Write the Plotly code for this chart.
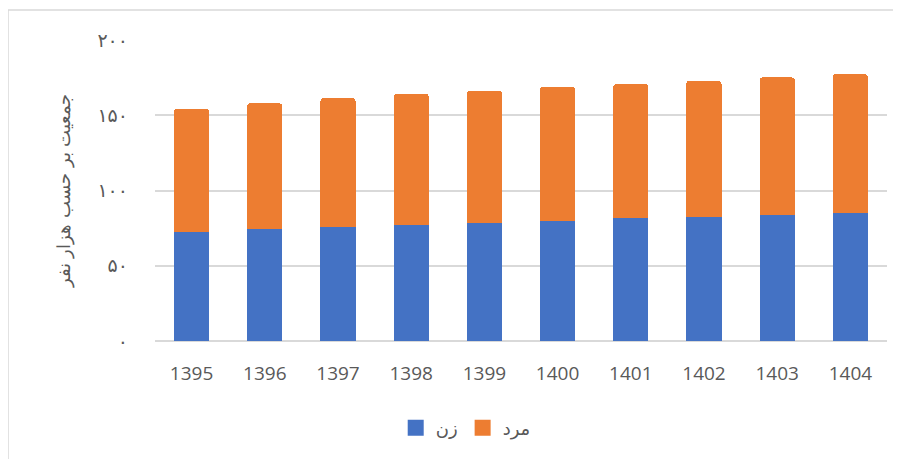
import plotly.graph_objects as go

years = ["1395", "1396", "1397", "1398", "1399", "1400", "1401", "1402", "1403", "1404"]
women = [72.4, 74.4, 75.7, 77.1, 78.4, 79.7, 81.5, 82.6, 83.7, 85.2]
men = [81.8, 83.5, 85.6, 87.0, 87.7, 89.1, 89.1, 90.2, 91.4, 92.0]
women_name = "زن"
men_name = "مرد"
y_tickvals = [0, 50, 100, 150, 200]
y_ticktext = ["۰", "۵۰", "۱۰۰", "۱۵۰", "۲۰۰"]
y_title = "جمعیت بر حسب هزار نفر"

blue = "#4472C4"
orange = "#ED7D31"

L, R, T, B = 147, 22, 32, 126
PW, PH = 901 - L - R, 459 - T - B

fig = go.Figure()
fig.add_trace(go.Bar(x=years, y=women, name=women_name, marker=dict(color=blue, line=dict(width=0)),
                     showlegend=False))
fig.add_trace(go.Bar(x=years, y=men, name=men_name, marker=dict(color=orange, line=dict(width=0)),
                     showlegend=False))
# legend entries
fig.add_trace(go.Scatter(x=[None], y=[None], mode="markers", name=women_name,
                         marker=dict(symbol="square", size=16, color=blue)))
fig.add_trace(go.Scatter(x=[None], y=[None], mode="markers", name=men_name,
                         marker=dict(symbol="square", size=16, color=orange)))

fig.update_layout(
    width=901, height=459,
    barmode="stack",
    bargap=0.52,
    barcornerradius=3,
    paper_bgcolor="white",
    plot_bgcolor="white",
    margin=dict(l=L, r=R, t=T, b=B, autoexpand=False),
    font=dict(family="DejaVu Sans", color="#595959"),
    xaxis=dict(
        tickfont=dict(family="Open Sans", size=19, color="#595959"),
        showgrid=False, showline=False, ticks="", ticklabelstandoff=19,
    ),
    yaxis=dict(
        range=[0, 200],
        tickvals=y_tickvals, ticktext=y_ticktext,
        tickfont=dict(family="DejaVu Sans", size=19, color="#595959"),
        showgrid=True, gridcolor="#d9d9d9", gridwidth=1.5,
        zeroline=True, zerolinecolor="#d9d9d9", zerolinewidth=1.5,
        ticks="", ticklabelstandoff=26,
        title=dict(text=y_title, font=dict(family="DejaVu Serif", size=18, color="#595959"), standoff=22),
    ),
    legend=dict(
        orientation="h", xref="container", x=0.508, xanchor="center",
        yref="container", y=1 - (428 - 8) / 459, yanchor="middle",
        font=dict(family="DejaVu Sans", size=18, color="#595959"),
        itemwidth=30, traceorder="normal",
    ),
    shapes=[dict(type="rect", xref="paper", yref="paper", x0=-L / PW, x1=1.1, y0=-1.5, y1=1 + 30 / PH,
                 line=dict(color="#d9d9d9", width=1.5), fillcolor="rgba(0,0,0,0)", layer="below")],
)

fig.write_html("out.html")
